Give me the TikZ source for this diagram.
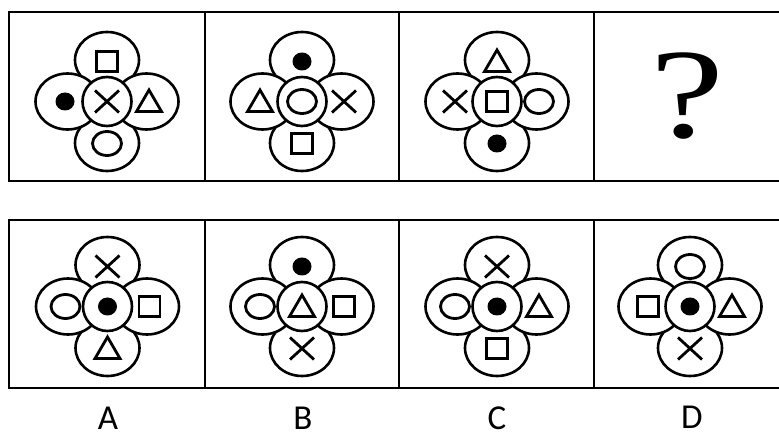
\documentclass[tikz,border=0pt]{standalone}
\usepackage{fontspec}
\newfontfamily\labfont{Carlito}
\newfontfamily\qfont{Liberation Serif}
\tikzset{
  boxline/.style={line width=2.8pt},
  ringline/.style={line width=2.6pt, fill=white},
  sym/.style={line width=2.8pt},
  pics/sq/.style={code={\draw[sym] (-10.5,-10) rectangle (10.5,10);}},
  pics/ring/.style={code={\draw[sym] (0,0) ellipse [x radius=14.5, y radius=12];}},
  pics/dot/.style={code={\fill (0,0) ellipse [x radius=9.5, y radius=9];}},
  pics/tri/.style={code={\draw[sym,line join=miter] (-12.5,10) -- (12.5,10) -- (0,-11.5) -- cycle;}},
  pics/crs/.style={code={\draw[sym] (-12,-11) -- (12,11) (-12,11) -- (12,-11);}},
  lab/.style={font=\labfont\fontsize{35}{35}\selectfont, inner sep=0pt, text depth=0pt}
}
% #1 x, #2 y, #3 top, #4 left, #5 centre, #6 right, #7 bottom
\newcommand\flowerpic[7]{%
  \begin{scope}[shift={(#1,#2)}]
    \draw[ringline] (0,-41.5) ellipse [x radius=32, y radius=28];
    \draw[ringline] (0,41.5) ellipse [x radius=32, y radius=28];
    \draw[ringline] (-39.5,0) ellipse [x radius=32, y radius=28];
    \draw[ringline] (39.5,0) ellipse [x radius=32, y radius=28];
    \draw[ringline] (0,0) circle [radius=24.5];
    \pic at (0,-40) {#3};
    \pic at (-42,0) {#4};
    \pic at (0,0) {#5};
    \pic at (42,0) {#6};
    \pic at (0,42) {#7};
  \end{scope}}
\begin{document}
\begin{tikzpicture}[x=1pt,y=-1pt]
  \useasboundingbox (0,0) rectangle (779,438);
  \clip (0,0) rectangle (779,438);
  % frames
  \draw[boxline] (9,12) rectangle (789,181);
  \draw[boxline] (9,220) rectangle (789,388);
  \foreach \xx in {205,399,594} {
    \draw[boxline] (\xx,12) -- (\xx,181);
    \draw[boxline] (\xx,220) -- (\xx,388);
  }
  % top row
  \flowerpic{107}{101.5}{sq}{dot}{crs}{tri}{ring}
  \flowerpic{302}{101.5}{dot}{tri}{ring}{crs}{sq}
  \flowerpic{497}{101.5}{tri}{crs}{sq}{ring}{dot}
  \node[font=\qfont\fontsize{128}{128}\selectfont, inner sep=0pt, xscale=1.3] (q) at (687,96) {?};
  % bottom row
  \flowerpic{107.5}{306.5}{crs}{ring}{dot}{sq}{tri}
  \flowerpic{302}{306.5}{dot}{ring}{tri}{sq}{crs}
  \flowerpic{497}{306.5}{crs}{ring}{dot}{tri}{sq}
  \flowerpic{690}{306.5}{ring}{sq}{dot}{tri}{crs}
  % labels
  \node[lab] (la) at (108,418) {A};
  \node[lab] (lb) at (303,418) {B};
  \node[lab] (lc) at (497,418) {C};
  \node[lab] (ld) at (692,417) {D};
\end{tikzpicture}
\end{document}
